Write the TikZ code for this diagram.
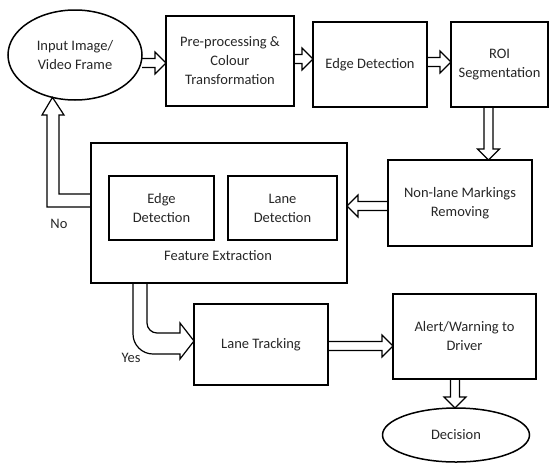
\documentclass[tikz,border=0pt]{standalone}
\usepackage{fontspec}
\setmainfont{Carlito}
\usetikzlibrary{calc,shapes.geometric}
\newcommand{\fatarrow}[2]{%
  \path #1 coordinate (faS) #2 coordinate (faE);
  \coordinate (faH) at ($(faE)!11pt!(faS)$);
  \draw[fat] ($(faS)!4.5pt!90:(faE)$) -- ($(faH)!4.5pt!-90:(faS)$) -- ($(faH)!11pt!-90:(faS)$) -- (faE)
    -- ($(faH)!11pt!90:(faS)$) -- ($(faH)!4.5pt!90:(faS)$) -- ($(faS)!4.5pt!-90:(faE)$);}
\begin{document}
\begin{tikzpicture}[x=1pt,y=-1pt,
  txt/.style={font=\fontsize{14.5}{19}\selectfont, text=black!85, align=center},
  box/.style={txt, draw, line width=1.5pt, inner sep=2pt, outer sep=0pt},
  oval/.style={box, ellipse},
  fat/.style={draw, line width=1.2pt, line join=miter}]
\useasboundingbox (0,0) rectangle (553,466);
% nodes
\node[oval, minimum width=134, minimum height=90] (inp) at (75,55) {Input Image/\\Video Frame};
\node[box, minimum width=128, minimum height=90] (pre) at (230,61) {Pre-processing \&\\Colour\\Transformation};
\node[box, minimum width=114, minimum height=85] (edge) at (370,64.5) {Edge Detection};
\node[box, minimum width=97, minimum height=85] (roi) at (499.5,64.5) {ROI\\Segmentation};
\node[box, minimum width=144, minimum height=86] (nonlane) at (460,203) {Non-lane Markings\\Removing};
\node[box, minimum width=256, minimum height=140] (feat) at (219,213) {};
\node[box, minimum width=105, minimum height=64] (ed2) at (161.5,208) {Edge\\Detection};
\node[box, minimum width=109, minimum height=64] (ld) at (282.5,208) {Lane\\Detection};
\node[txt] (featlbl) at (218,256) {Feature Extraction};
\node[box, minimum width=134, minimum height=81] (lt) at (261,344.5) {Lane Tracking};
\node[box, minimum width=143, minimum height=85] (alert) at (464.5,336.5) {Alert/Warning to\\Driver};
\node[oval, minimum width=147, minimum height=54] (dec) at (456,435) {Decision};
\node[txt] (no) at (59,224) {No};
\node[txt] (yes) at (131,358) {Yes};
% straight arrows
\fatarrow{(inp.east |- 0,63)}{(pre.west |- 0,63)}
\fatarrow{(pre.east |- 0,59)}{(edge.west |- 0,59)}
\fatarrow{(edge.east |- 0,62)}{(roi.west |- 0,62)}
\fatarrow{(roi.south -| 488.5,0)}{(nonlane.north -| 488.5,0)}
\fatarrow{(nonlane.west |- 0,206)}{(feat.east |- 0,206)}
\fatarrow{(lt.east |- 0,346)}{(alert.west |- 0,346)}
\fatarrow{(alert.south -| 455,0)}{(dec.north -| 455,0)}
% No loop
\draw[fat] (feat.west |- 0,194) -- (59,194) -- (59,115) -- (64,115) -- (inp.242.6)
  -- (42,115) -- (47,115) -- (47,207) -- (feat.west |- 0,207);
% Yes branch
\draw[fat] (feat.south -| 133,0) -- (133,334) .. controls (133,345) and (142,354) .. (153,354)
  -- (180,354) -- (180,359) -- (lt.west |- 0,341) -- (180,323) -- (180,333) -- (157,333)
  .. controls (151.5,333) and (147,328.5) .. (147,323) -- (feat.south -| 147,0);
\end{tikzpicture}
\end{document}
